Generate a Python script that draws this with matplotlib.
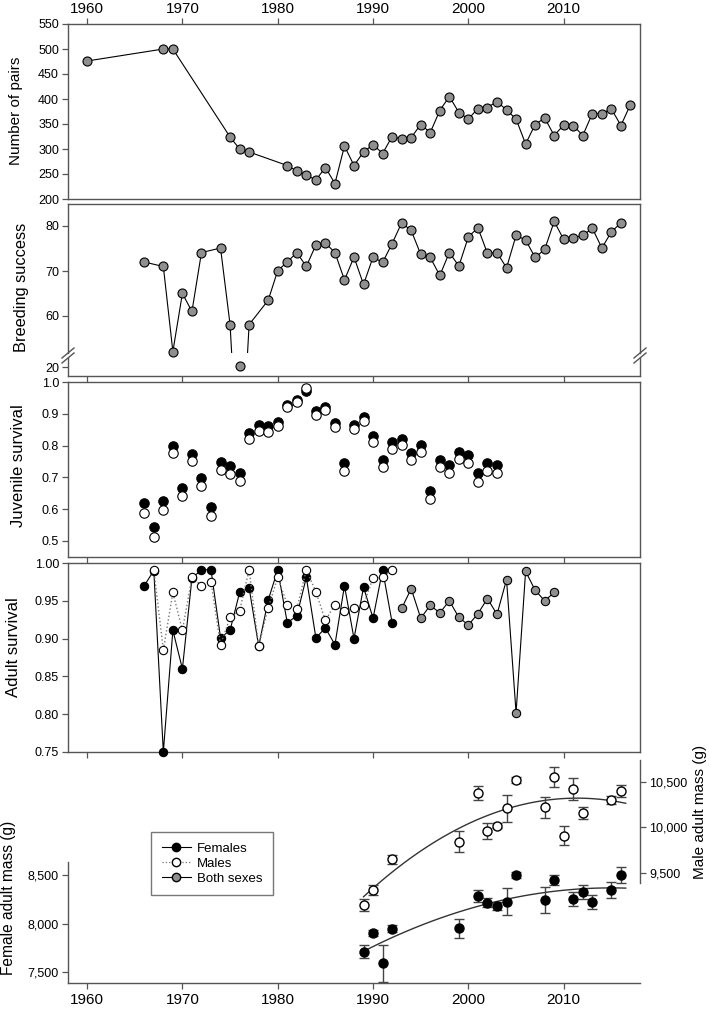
import matplotlib
matplotlib.use('Agg')
import matplotlib.pyplot as plt
import numpy as np
from matplotlib.lines import Line2D
from matplotlib.ticker import FuncFormatter

plt.rcParams['font.family'] = ['Liberation Sans', 'DejaVu Sans']

# ---------------- data ----------------
pairs_years = [1960, 1968, 1969, 1975, 1976, 1977, 1981, 1982, 1983, 1984, 1985, 1986,
               1987, 1988, 1989, 1990, 1991, 1992, 1993, 1994, 1995, 1996, 1997, 1998,
               1999, 2000, 2001, 2002, 2003, 2004, 2005, 2006, 2007, 2008, 2009, 2010,
               2011, 2012, 2013, 2014, 2015, 2016, 2017]
pairs = [476, 500, 500, 324, 300, 294, 267, 256, 248, 238, 263, 231,
         306, 267, 294, 309, 291, 325, 320, 323, 349, 333, 377, 405,
         373, 360, 381, 383, 395, 378, 360, 310, 349, 362, 327, 348,
         347, 327, 371, 371, 380, 347, 389]

breed_years = [1966, 1968, 1969, 1970, 1971, 1972, 1974, 1975, 1976, 1977, 1979, 1980,
               1981, 1982, 1983, 1984, 1985, 1986, 1987, 1988, 1989, 1990, 1991, 1992,
               1993, 1994, 1995, 1996, 1997, 1998, 1999, 2000, 2001, 2002, 2003, 2004,
               2005, 2006, 2007, 2008, 2009, 2010, 2011, 2012, 2013, 2014, 2015, 2016]
breed = [72.0, 71.0, 52.1, 65.0, 61.0, 74.1, 75.1, 58.1, 20.3, 58.1, 63.5, 70.1,
         72.0, 74.1, 71.0, 75.8, 76.2, 74.1, 68.0, 73.1, 67.0, 73.1, 71.9, 76.1,
         80.7, 79.0, 73.7, 73.0, 69.0, 74.1, 71.1, 77.6, 79.6, 73.9, 74.1, 70.7,
         77.9, 76.9, 73.0, 74.8, 81.0, 77.0, 77.4, 77.9, 79.5, 75.1, 78.7, 80.7]

juv_years = [1966, 1967, 1968, 1969, 1970, 1971, 1972, 1973, 1974, 1975, 1976, 1977,
             1978, 1979, 1980, 1981, 1982, 1983, 1984, 1985, 1986, 1987, 1988, 1989,
             1990, 1991, 1992, 1993, 1994, 1995, 1996, 1997, 1998, 1999, 2000, 2001,
             2002, 2003]
juv_f = [0.619, 0.543, 0.625, 0.798, 0.667, 0.774, 0.698, 0.606, 0.748, 0.737, 0.715, 0.840,
         0.865, 0.861, 0.875, 0.929, 0.943, 0.971, 0.908, 0.922, 0.872, 0.746, 0.866, 0.891,
         0.829, 0.755, 0.811, 0.821, 0.776, 0.801, 0.658, 0.755, 0.738, 0.779, 0.769, 0.712,
         0.745, 0.738]
juv_m = [0.589, 0.512, 0.597, 0.777, 0.640, 0.751, 0.672, 0.577, 0.723, 0.711, 0.689, 0.822,
         0.847, 0.843, 0.860, 0.922, 0.938, 0.981, 0.897, 0.911, 0.857, 0.721, 0.851, 0.876,
         0.811, 0.732, 0.789, 0.802, 0.753, 0.779, 0.631, 0.732, 0.715, 0.756, 0.746, 0.686,
         0.721, 0.715]

ad_f_years = [1966, 1967, 1968, 1969, 1970, 1971, 1972, 1973, 1974, 1975, 1976, 1977,
              1978, 1979, 1980, 1981, 1982, 1983, 1984, 1985, 1986, 1987, 1988, 1989,
              1990, 1991, 1992]
ad_f = [0.970, 0.990, 0.750, 0.911, 0.860, 0.980, 0.991, 0.991, 0.901, 0.911, 0.961, 0.967,
        0.890, 0.951, 0.991, 0.921, 0.930, 0.981, 0.901, 0.914, 0.892, 0.970, 0.900, 0.968,
        0.927, 0.991, 0.921]
ad_m_years = [1967, 1968, 1969, 1970, 1971, 1972, 1973, 1974, 1975, 1976, 1977, 1978,
              1979, 1980, 1981, 1982, 1983, 1984, 1985, 1986, 1987, 1988, 1989, 1990,
              1991, 1992]
ad_m = [0.991, 0.885, 0.961, 0.911, 0.981, 0.970, 0.975, 0.892, 0.928, 0.937, 0.991, 0.890,
        0.941, 0.981, 0.945, 0.939, 0.991, 0.962, 0.924, 0.945, 0.936, 0.941, 0.945, 0.980,
        0.981, 0.991]
ad_b_years = [1993, 1994, 1995, 1996, 1997, 1998, 1999, 2000, 2001, 2002, 2003, 2004,
              2005, 2006, 2007, 2008, 2009]
ad_b = [0.940, 0.966, 0.927, 0.944, 0.934, 0.950, 0.928, 0.918, 0.933, 0.953, 0.932, 0.978,
        0.802, 0.989, 0.964, 0.950, 0.961]

mass_f_years = [1989, 1990, 1991, 1992, 1999, 2001, 2002, 2003, 2004, 2005, 2008, 2009,
                2011, 2012, 2013, 2015, 2016]
mass_f = [7710, 7905, 7590, 7945, 7950, 8287, 8215, 8184, 8225, 8500, 8240, 8448,
          8253, 8329, 8219, 8345, 8500]
mass_f_err = [70, 30, 190, 35, 100, 62, 48, 41, 141, 27, 134, 55, 72, 72, 72, 82, 82]
mass_m_years = [1989, 1990, 1992, 1999, 2001, 2002, 2003, 2004, 2005, 2008, 2009, 2010,
                2011, 2012, 2015, 2016]
mass_m = [9148, 9311, 9650, 9842, 10379, 9959, 10018, 10208, 10519, 10220, 10554, 9908,
          10415, 10157, 10300, 10402]
mass_m_err = [65, 55, 50, 113, 77, 92, 30, 148, 30, 117, 110, 103, 121, 66, 48, 66]

decades = [1960, 1970, 1980, 1990, 2000, 2010]
legend_labels = ['Females', 'Males', 'Both sexes']

# ---------------- layout ----------------
W, H = 709, 1009
fig = plt.figure(figsize=(W / 100, H / 100), dpi=100)
L, R = 68, 640
FRAME = '#555555'
GRAY = '#8f8f8f'
XLIM = (1958, 2018)


def rect(top, bottom):
    return [L / W, 1 - bottom / H, (R - L) / W, (bottom - top) / H]


def style(ax):
    for s in ax.spines.values():
        s.set_color(FRAME)
        s.set_linewidth(1.0)
    ax.tick_params(direction='out', length=4.5, width=0.9, color=FRAME,
                   labelsize=9, pad=2)
    ax.set_xlim(*XLIM)
    ax.set_xticks(decades)


def ylab(text, x, y, size):
    fig.text(x / W, 1 - y / H, text, rotation=90, ha='center', va='center',
             fontsize=size)


# Panel 1: number of pairs
ax1 = fig.add_axes(rect(24, 199))
style(ax1)
ax1.plot(pairs_years, pairs, '-', color='black', lw=0.8, marker='o', ms=6.5,
         mfc=GRAY, mec='black', mew=0.8)
ax1.set_ylim(200, 550)
ax1.set_yticks(np.arange(200, 551, 50))
ax1.tick_params(axis='x', top=True, bottom=False, labeltop=True, labelbottom=False,
                labelsize=11, pad=1)
ylab('Number of pairs', 16, 111, 11)

# Panel 2: breeding success (broken axis)
breed_arr = np.array(breed)
by = np.array(breed_years)
ax2 = fig.add_axes(rect(204, 353))
style(ax2)
ax2.spines['bottom'].set_visible(False)
ax2.plot(breed_years, breed, '-', color='black', lw=0.8)
hi = breed_arr > 40
ax2.plot(by[hi], breed_arr[hi], 'o', ms=6.5, mfc=GRAY, mec='black', mew=0.8,
         clip_on=False)
ax2.set_ylim(80 - (353 - 226) / 4.5, 80 + (226 - 204) / 4.5)
ax2.set_yticks([60, 70, 80])
ax2.tick_params(axis='x', bottom=False, labelbottom=False)

ax2b = fig.add_axes(rect(358, 376))
style(ax2b)
ax2b.spines['top'].set_visible(False)
ax2b.plot(by[~hi], breed_arr[~hi], 'o', ms=6.5, mfc=GRAY, mec='black', mew=0.8,
          clip_on=False)
ax2b.set_ylim(18, 22)
ax2b.set_yticks([20])
ax2b.tick_params(axis='x', labelbottom=False)
ylab('Breeding success', 22, 287, 11.8)

# break marks
for xb in (L, R):
    for yb in (353, 358):
        fig.add_artist(Line2D([(xb - 6) / W, (xb + 6) / W],
                              [1 - (yb + 5) / H, 1 - (yb - 5) / H],
                              color=FRAME, lw=1.0, transform=fig.transFigure))

# Panel 3: juvenile survival
ax3 = fig.add_axes(rect(382, 557))
style(ax3)
ax3.plot(juv_years, juv_f, 'o', ms=6.8, mfc='black', mec='black', mew=0.8)
ax3.plot(juv_years, juv_m, 'o', ms=6.8, mfc='white', mec='black', mew=0.8)
ax3.set_ylim(0.449, 1.0)
ax3.set_yticks([0.5, 0.6, 0.7, 0.8, 0.9, 1.0])
ax3.yaxis.set_major_formatter(FuncFormatter(lambda v, p: f'{v:.1f}'))
ax3.tick_params(axis='x', labelbottom=False)
ylab('Juvenile survival', 19, 466, 12)

# Panel 4: adult survival
ax4 = fig.add_axes(rect(563, 752))
style(ax4)
ax4.plot(ad_f_years, ad_f, '-', color='black', lw=0.8, marker='o', ms=6,
         mfc='black', mec='black', mew=0.8, clip_on=False, zorder=3)
ax4.plot(ad_m_years, ad_m, ':', color='#777777', lw=1.0, zorder=3.5)
ax4.plot(ad_m_years, ad_m, 'o', ms=6, mfc='white', mec='black', mew=0.8,
         clip_on=False, zorder=4)
ax4.plot(ad_b_years, ad_b, '-', color='black', lw=0.8, marker='o', ms=6,
         mfc=GRAY, mec='black', mew=0.8, clip_on=False, zorder=3)
ax4.set_ylim(0.75, 1.0)
ax4.set_yticks([0.75, 0.80, 0.85, 0.90, 0.95, 1.00])
ax4.yaxis.set_major_formatter(FuncFormatter(lambda v, p: f'{v:.2f}'))
ax4.tick_params(axis='x', labelbottom=False)
ylab('Adult survival', 14, 647, 12)

# Panel 5: adult mass
axf = fig.add_axes(rect(760, 983))
style(axf)
axm = axf.twinx()
style(axm)
f_lo = 7500 - (983 - 972) / 0.097
axf.set_ylim(f_lo, f_lo + 223 / 0.097)
m_lo = 10500 - (983 - 781.7) / 0.091
axm.set_ylim(m_lo, m_lo + 223 / 0.091)
for s in ('top', 'right'):
    axf.spines[s].set_visible(False)
for s in ('top', 'left', 'bottom'):
    axm.spines[s].set_visible(False)
axf.spines['left'].set_bounds(f_lo, 8634)
axm.spines['right'].set_bounds(9387, m_lo + 223 / 0.091)
axf.set_yticks([7500, 8000, 8500])
axm.set_yticks([9500, 10000, 10500])
comma = FuncFormatter(lambda v, p: f'{int(v):,}')
axf.yaxis.set_major_formatter(comma)
axm.yaxis.set_major_formatter(comma)
axf.tick_params(axis='x', labelsize=11, pad=3)
axm.tick_params(axis='x', bottom=False, labelbottom=False)

cf = np.polyfit(mass_f_years, mass_f, 2)
cm = np.polyfit(mass_m_years, mass_m, 2)
xs = np.linspace(min(mass_f_years), max(mass_f_years) + 0.5, 100)
axf.plot(xs, np.polyval(cf, xs), '-', color='#333333', lw=1.0)
axm.plot(xs, np.polyval(cm, xs), '-', color='#333333', lw=1.0)
axf.errorbar(mass_f_years, mass_f, yerr=mass_f_err, fmt='o', ms=6.5, mfc='black',
             mec='black', ecolor='#444444', elinewidth=1, capsize=3.5, capthick=1)
axm.errorbar(mass_m_years, mass_m, yerr=mass_m_err, fmt='o', ms=6.5, mfc='white',
             mec='black', ecolor='#444444', elinewidth=1, capsize=3.5, capthick=1)
ylab('Female adult mass (g)', 9, 898, 11.2)
ylab('Male adult mass (g)', 700, 812, 11)

handles = [
    Line2D([], [], color='black', lw=0.8, marker='o', ms=6, mfc='black', mec='black'),
    Line2D([], [], color='#777777', lw=0.9, ls=':', marker='o', ms=6, mfc='white',
           mec='black'),
    Line2D([], [], color='black', lw=0.8, marker='o', ms=6, mfc=GRAY, mec='black'),
]
leg = fig.legend(handles, legend_labels, loc='upper left',
                 bbox_to_anchor=(151 / W, 1 - 832 / H), bbox_transform=fig.transFigure,
                 borderaxespad=0, frameon=True, fancybox=False, edgecolor=FRAME,
                 fontsize=9.5, handlelength=2.2, labelspacing=0.2, borderpad=0.8,
                 handletextpad=0.5)
leg.get_frame().set_linewidth(1.0)

fig.savefig('out.png', dpi=100)
